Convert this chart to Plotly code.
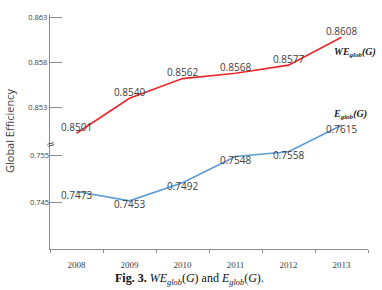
import plotly.graph_objects as go

years = ["2008", "2009", "2010", "2011", "2012", "2013"]
we_glob = [0.8501, 0.8540, 0.8562, 0.8568, 0.8577, 0.8608]
e_glob = [0.7473, 0.7453, 0.7492, 0.7548, 0.7558, 0.7615]
upper_ticks = [0.853, 0.858, 0.863]
lower_ticks = [0.745, 0.755]

W, H = 382, 290
L, R, T, B = 50, 368, 14, 249
pw, ph = R - L, B - T

def px(x):
    return (x - L) / pw

def py(y):
    return (B - y) / ph

label_font = dict(family="Open Sans", size=10, color="#404040")

fig = go.Figure()
fig.add_trace(go.Scatter(
    x=years, y=we_glob, mode="lines+text",
    line=dict(color="#e8282b", width=1.6),
    text=[f"{v:.4f}" for v in we_glob], textposition="top center",
    textfont=label_font, cliponaxis=False, yaxis="y", showlegend=False))
fig.add_trace(go.Scatter(
    x=years, y=e_glob, mode="lines+text",
    line=dict(color="#5b9bd5", width=1.6),
    text=[f"{v:.4f}" for v in e_glob], textposition="bottom center",
    textfont=label_font, cliponaxis=False, yaxis="y2", showlegend=False))

tickfont = dict(family="Open Sans", size=7.5, color="#404040")
fig.update_layout(
    width=W, height=H, margin=dict(l=L, r=W - R, t=T, b=H - B),
    paper_bgcolor="white", plot_bgcolor="white",
    xaxis=dict(type="category", range=[-0.5, 5.5], tickson="boundaries",
               showline=True, linecolor="#8c8c8c", linewidth=1.2,
               ticks="outside", ticklen=3, tickcolor="#8c8c8c",
               ticklabelstandoff=7,
               showgrid=False, zeroline=False,
               tickfont=dict(family="Liberation Serif", size=9, color="#404040")),
    yaxis=dict(range=[0.8372, 0.8634], tickvals=upper_ticks,
               ticktext=[f"{v:.3f}" for v in upper_ticks],
               showline=True, linecolor="#8c8c8c", linewidth=1.2,
               ticks="inside", ticklen=12, tickcolor="#8c8c8c",
               showgrid=False, zeroline=False, tickfont=tickfont),
    yaxis2=dict(range=[0.735, 0.7853], tickvals=lower_ticks,
                ticktext=[f"{v:.3f}" for v in lower_ticks],
                overlaying="y", side="left", showline=False,
                ticks="inside", ticklen=12, tickcolor="#8c8c8c",
                showgrid=False, zeroline=False, tickfont=tickfont),
)

fig.add_annotation(x=px(9), y=py(131), xref="paper", yref="paper",
                   xanchor="center", yanchor="middle",
                   text="Global Efficiency", textangle=-90, showarrow=False,
                   font=dict(family="Open Sans", size=11, color="#404040"))
fig.add_annotation(x=0, y=py(144), xref="paper", yref="paper", text="≈",
                   xanchor="center", yanchor="middle", textangle=-20,
                   showarrow=False, font=dict(family="DejaVu Sans", size=11, color="#606060"))
fig.add_annotation(x=px(355), y=py(52), xref="paper", yref="paper",
                   xanchor="center", yanchor="middle",
                   text="<b><i>WE<sub>glob</sub>(G)</i></b>", showarrow=False,
                   font=dict(family="Liberation Serif", size=10, color="#222222"))
fig.add_annotation(x=px(350), y=py(115), xref="paper", yref="paper",
                   xanchor="center", yanchor="middle",
                   text="<b><i>E<sub>glob</sub>(G)</i></b>", showarrow=False,
                   font=dict(family="Liberation Serif", size=10, color="#222222"))
fig.add_annotation(x=px(189), y=py(279), xref="paper", yref="paper",
                   xanchor="center", yanchor="middle",
                   text="<b>Fig. 3.</b> <i>WE</i><sub><i>glob</i></sub>(<i>G</i>) and <i>E</i><sub><i>glob</i></sub>(<i>G</i>).",
                   showarrow=False,
                   font=dict(family="Liberation Serif", size=12, color="#111111"))

fig.write_html("out.html")
